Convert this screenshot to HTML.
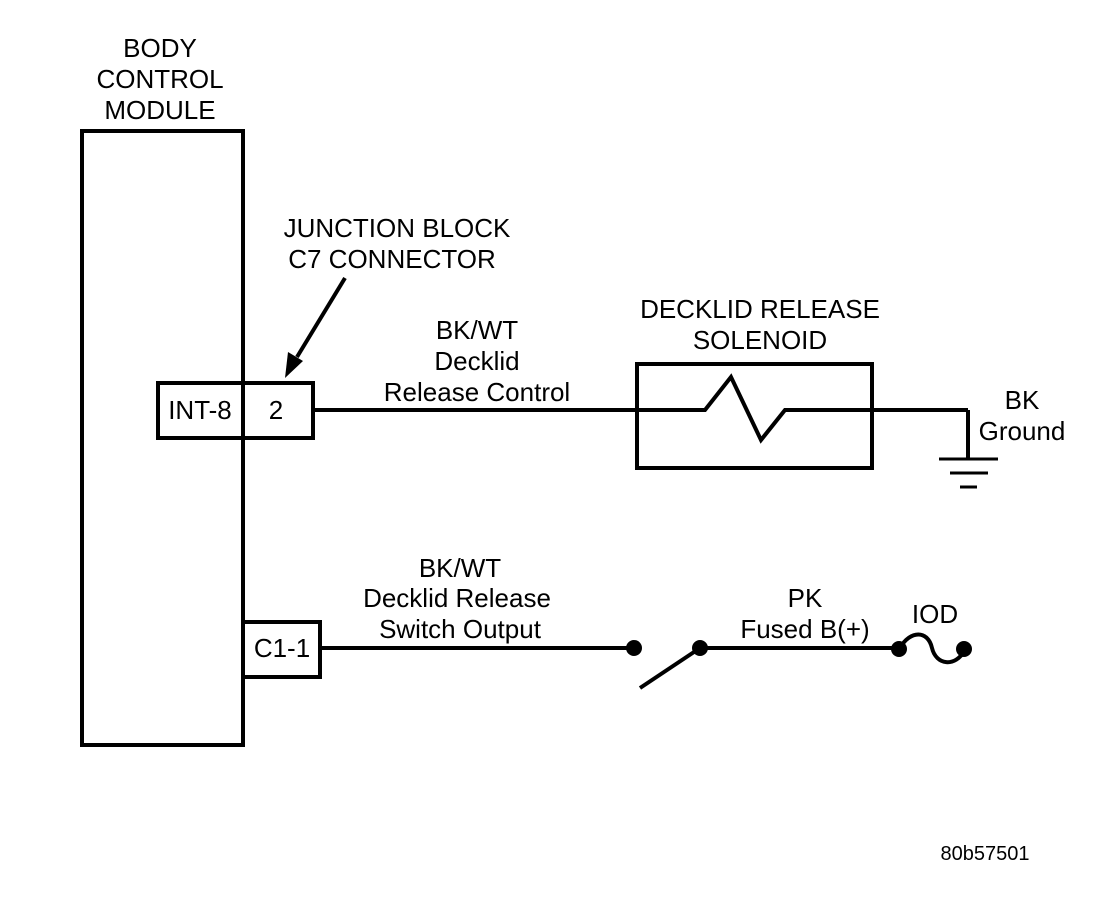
<!DOCTYPE html>
<html><head><style>
body{margin:0;background:#fff;}
svg text{font-family:"Liberation Sans",Arial,sans-serif;fill:#000;}
</style></head><body>
<svg width="1120" height="894" viewBox="0 0 1120 894" xmlns="http://www.w3.org/2000/svg">
<g stroke="#000" stroke-width="4" fill="none">
<rect x="82" y="131" width="161" height="614"/>
<rect x="158" y="383" width="155" height="55" fill="#fff"/>
<line x1="243" y1="383" x2="243" y2="438"/>
<rect x="243" y="622" width="77" height="55" fill="#fff"/>
<line x1="313" y1="410" x2="968" y2="410"/>
<line x1="968" y1="410" x2="968" y2="460"/>
<rect x="637" y="364" width="235" height="104"/>
<line x1="320" y1="648" x2="633" y2="648"/>
<line x1="640" y1="688" x2="700" y2="648"/>
<line x1="700" y1="648" x2="900" y2="648"/>
<path d="M900,648 C910,630 928,630 932,648 C936,665 955,668 965,650"/>
<line x1="345" y1="278" x2="297" y2="357"/>
</g>
<rect x="700" y="405" width="90" height="10" fill="#fff"/>
<polyline points="636,410 705,410 731,377 761,440 785,410 872,410" fill="none" stroke="#000" stroke-width="4"/>
<polygon points="285,378 288,352 303,361" fill="#000"/>
<g stroke="#000" stroke-width="3">
<line x1="939" y1="459" x2="998" y2="459"/>
<line x1="950" y1="473" x2="988" y2="473"/>
<line x1="960" y1="487" x2="977" y2="487"/>
</g>
<g fill="#000">
<circle cx="634" cy="648" r="8"/>
<circle cx="700" cy="648" r="8"/>
<circle cx="899" cy="649" r="8"/>
<circle cx="964" cy="649" r="8"/>
</g>
<g font-size="26" text-anchor="middle">
<text x="160" y="57">BODY</text>
<text x="160" y="88">CONTROL</text>
<text x="160" y="119">MODULE</text>
<text x="397" y="237">JUNCTION BLOCK</text>
<text x="392" y="268">C7 CONNECTOR</text>
<text x="477" y="339">BK/WT</text>
<text x="477" y="370">Decklid</text>
<text x="477" y="401">Release Control</text>
<text x="760" y="318">DECKLID RELEASE</text>
<text x="760" y="349">SOLENOID</text>
<text x="1022" y="409">BK</text>
<text x="1022" y="440">Ground</text>
<text x="460" y="577">BK/WT</text>
<text x="457" y="607">Decklid Release</text>
<text x="460" y="638">Switch Output</text>
<text x="805" y="607">PK</text>
<text x="805" y="638">Fused B(+)</text>
<text x="935" y="623">IOD</text>
<text x="200" y="419">INT-8</text>
<text x="276" y="419">2</text>
<text x="282" y="657">C1-1</text>
<text x="985" y="860" font-size="20">80b57501</text>
</g>
</svg>
</body></html>
